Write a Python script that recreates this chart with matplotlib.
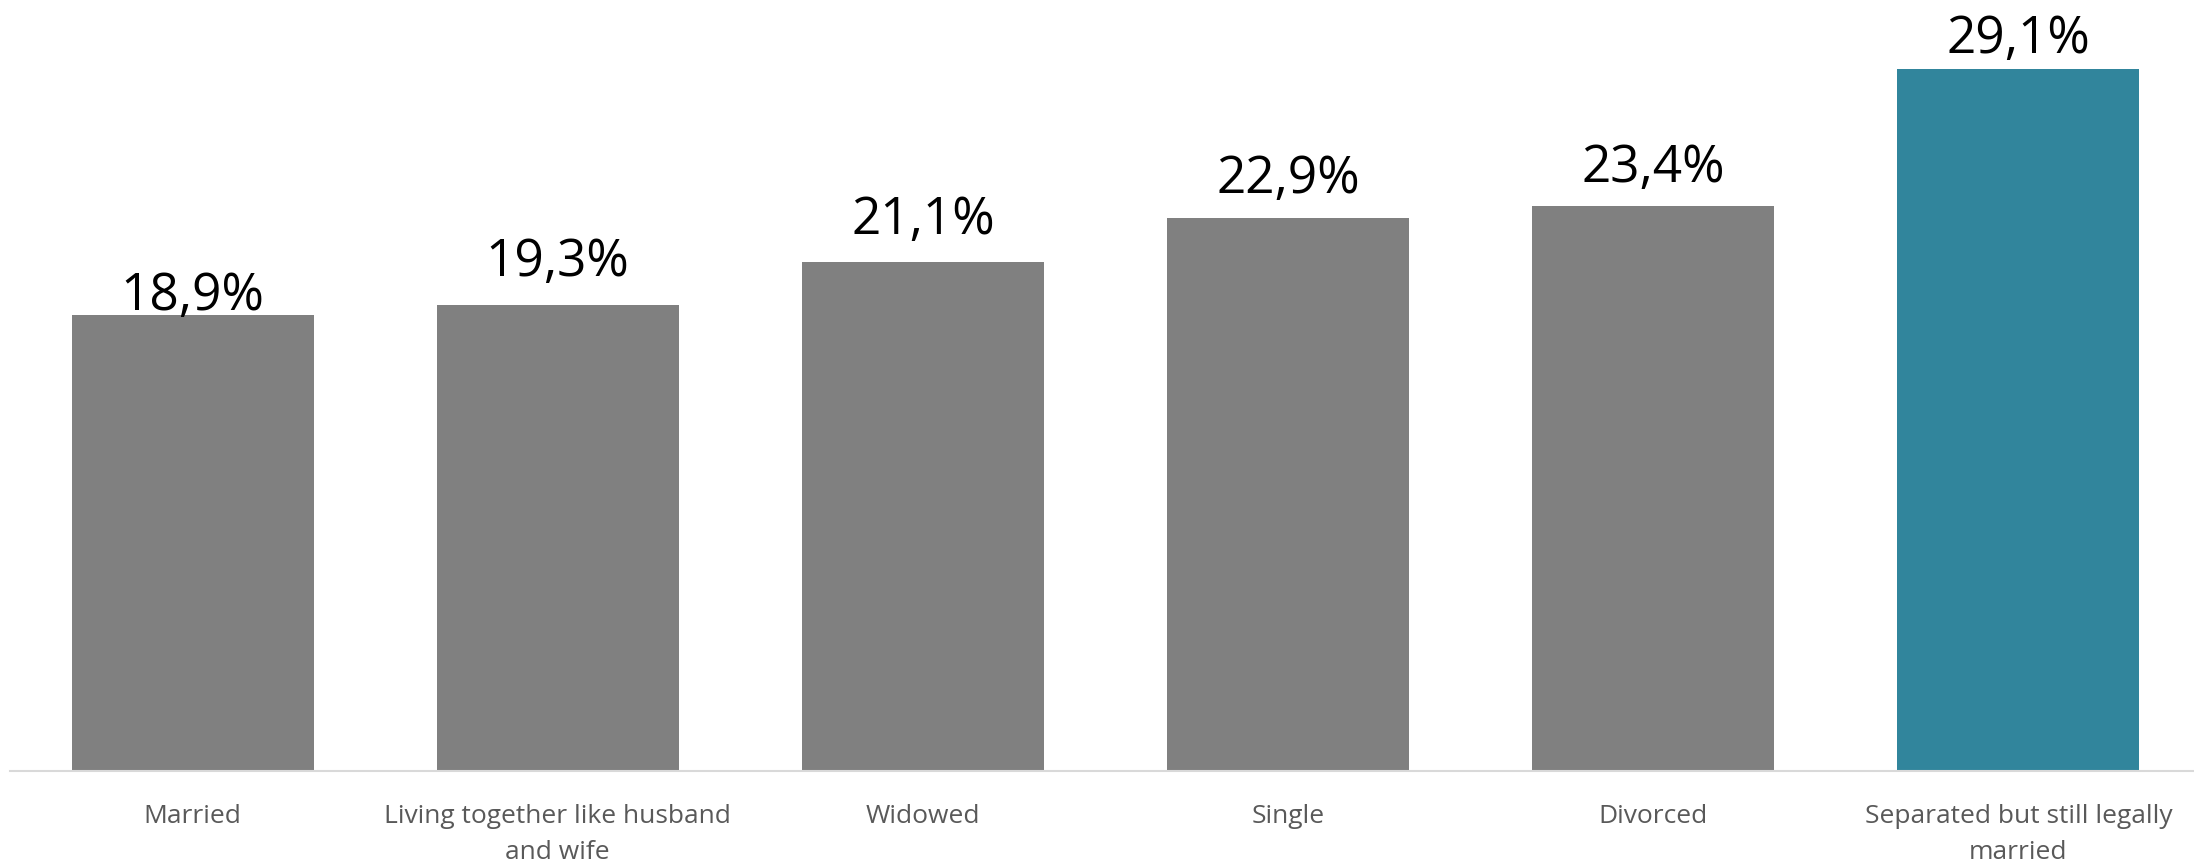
import matplotlib.pyplot as plt

plt.rcParams['font.family'] = ['Open Sans', 'DejaVu Sans']

# data
categories = ["Married", "Living together like husband\nand wife", "Widowed",
              "Single", "Divorced", "Separated but still legally\nmarried"]
values = [18.9, 19.3, 21.1, 22.9, 23.4, 29.1]
value_labels = ["18,9%", "19,3%", "21,1%", "22,9%", "23,4%", "29,1%"]

gray = "#808080"
teal = "#31859C"
colors = [gray] * 5 + [teal]
# gap between bar top and label baseline, in points (Excel placement varies a bit)
label_gaps = [3.6, 20.9, 20.0, 18.0, 17.3, 11.5]

fig = plt.figure(figsize=(21.94, 8.65), dpi=100)
ax = fig.add_axes([10 / 2194, 1 - 771 / 865, 2191 / 2194, 771 / 865])

x = range(len(categories))
bars = ax.bar(x, values, width=0.663, color=colors)

for b, lab, gap in zip(bars, value_labels, label_gaps):
    ax.annotate(lab, (b.get_x() + b.get_width() / 2, b.get_height()),
                xytext=(0, gap), textcoords="offset points",
                ha="center", va="baseline", fontsize=37, color="black")

ax.set_xlim(-0.5, 5.5)
ax.set_ylim(0, 31.94)
ax.set_xticks(list(x))
ax.set_xticklabels(categories, fontsize=19, color="#595959", linespacing=1.57)
ax.tick_params(axis="x", length=0, pad=24)
ax.set_yticks([])
for s in ["top", "right", "left"]:
    ax.spines[s].set_visible(False)
ax.spines["bottom"].set_color("#D9D9D9")
ax.spines["bottom"].set_linewidth(1.5)

fig.savefig("out.png", dpi=100)
